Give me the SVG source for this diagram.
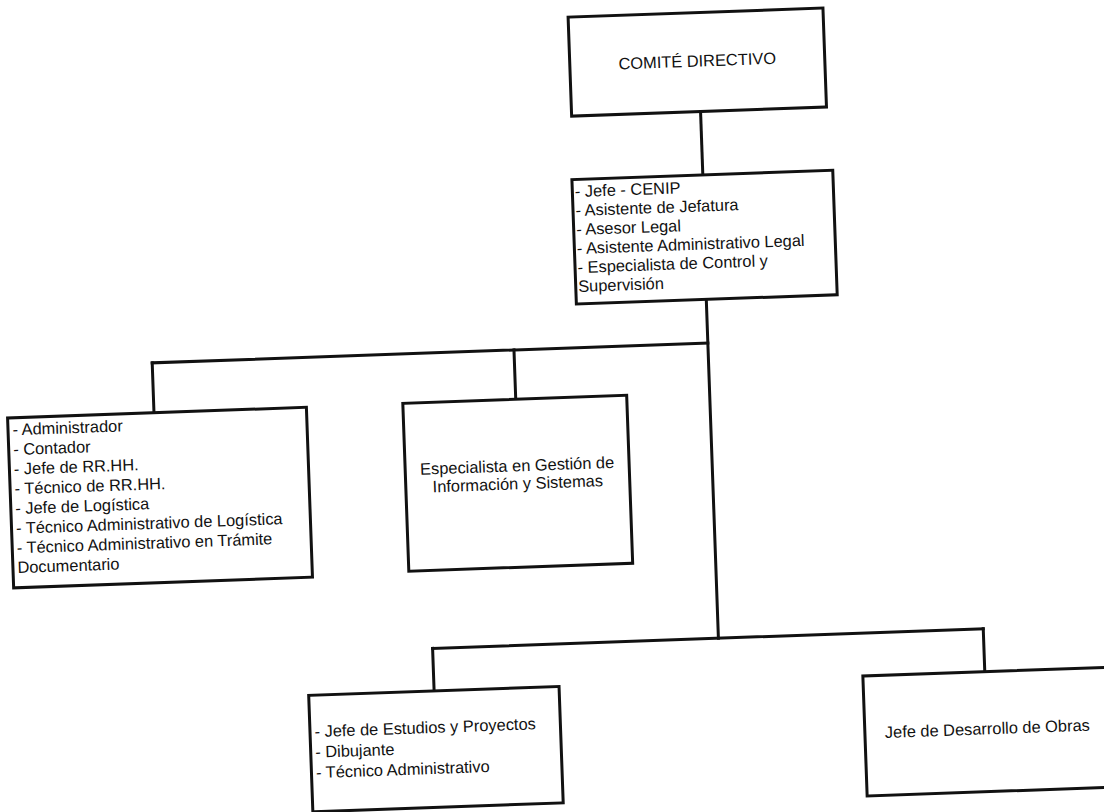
<svg xmlns="http://www.w3.org/2000/svg" width="1104" height="812" viewBox="0 0 1104 812">
  <style>
    .box { fill: #ffffff; stroke: #111111; stroke-width: 3; }
    .conn { stroke: #111111; stroke-width: 3; fill: none; stroke-linecap: square; }
    .t { font-family: "Liberation Sans", Arial, sans-serif; font-size: 16.4px; fill: #111111; }
    .c { text-anchor: middle; }
  </style>
  <rect x="0" y="0" width="1104" height="812" fill="#ffffff"/>
  <g transform="rotate(-2.05 552 406)">
    <g id="connectors">
      <line class="conn" x1="711" y1="117" x2="711" y2="180.5"/>
      <line class="conn" x1="710" y1="305" x2="710" y2="644"/>
      <line class="conn" x1="154" y1="348.6" x2="710" y2="348.6"/>
      <line class="conn" x1="154" y1="348.6" x2="154" y2="398.5"/>
      <line class="conn" x1="516" y1="348.6" x2="516" y2="398"/>
      <line class="conn" x1="424" y1="644" x2="975" y2="644"/>
      <line class="conn" x1="424" y1="644" x2="424" y2="686.5"/>
      <line class="conn" x1="975" y1="644" x2="975" y2="687"/>
    </g>
    <g id="comite-directivo">
      <rect class="box" x="582" y="18" width="255" height="99"/>
      <text class="t c" x="709.5" y="72">COMITÉ DIRECTIVO</text>
    </g>
    <g id="jefatura">
      <rect class="box" x="580" y="180.5" width="261" height="124.5"/>
      <text class="t" x="582.5" y="198">- Jefe - CENIP</text>
      <text class="t" x="582.5" y="217">- Asistente de Jefatura</text>
      <text class="t" x="582.5" y="236">- Asesor Legal</text>
      <text class="t" x="582.5" y="255">- Asistente Administrativo Legal</text>
      <text class="t" x="582.5" y="274">- Especialista de Control y</text>
      <text class="t" x="582.5" y="293">Supervisión</text>
    </g>
    <g id="administracion">
      <rect class="box" x="7.5" y="398.5" width="299" height="170"/>
      <text class="t" x="12" y="416">- Administrador</text>
      <text class="t" x="12" y="435.7">- Contador</text>
      <text class="t" x="12" y="455.4">- Jefe de RR.HH.</text>
      <text class="t" x="12" y="475.1">- Técnico de RR.HH.</text>
      <text class="t" x="12" y="494.8">- Jefe de Logística</text>
      <text class="t" x="12" y="514.5">- Técnico Administrativo de Logística</text>
      <text class="t" x="12" y="534.2">- Técnico Administrativo en Trámite</text>
      <text class="t" x="12" y="553.9">Documentario</text>
    </g>
    <g id="sistemas">
      <rect class="box" x="403" y="398" width="224" height="168"/>
      <text class="t c" x="515" y="470">Especialista en Gestión de</text>
      <text class="t c" x="515" y="488">Información y Sistemas</text>
    </g>
    <g id="estudios-proyectos">
      <rect class="box" x="298.5" y="686.5" width="250.5" height="116.5"/>
      <text class="t" x="303" y="728.5">- Jefe de Estudios y Proyectos</text>
      <text class="t" x="303" y="749">- Dibujante</text>
      <text class="t" x="303" y="769.5">- Técnico Administrativo</text>
    </g>
    <g id="desarrollo-obras">
      <rect class="box" x="853" y="687" width="247" height="120"/>
      <text class="t" x="873" y="749.7">Jefe de Desarrollo de Obras</text>
    </g>
  </g>
</svg>
